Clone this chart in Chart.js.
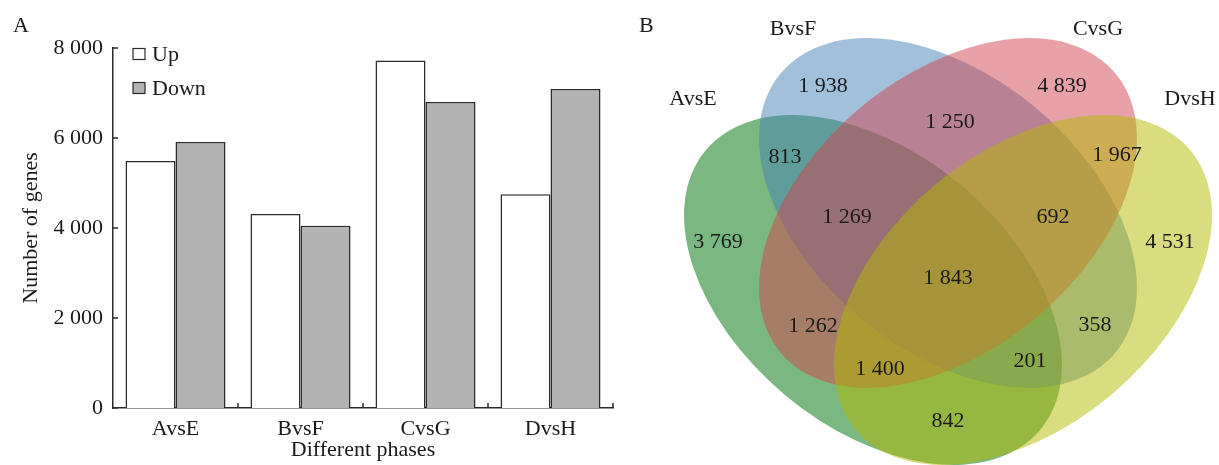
<!DOCTYPE html>
<html>
<head>
<meta charset="utf-8">
<script src="https://cdn.jsdelivr.net/npm/chart.js@4.4.1/dist/chart.umd.min.js"></script>
<style>
  html, body { margin: 0; padding: 0; background: #ffffff; }
  #wrap { position: relative; width: 1219px; height: 465px; overflow: hidden; }
  #bars { position: absolute; left: 0; top: 0; }
  #venn { position: absolute; left: 620px; top: 0; }
  .panel { position: absolute; font: 22px "Liberation Serif", serif; line-height: 22px; color: #1a1a1a; }
</style>
</head>
<body>
<div id="wrap">
  <canvas id="bars" width="620" height="465"></canvas>
  <canvas id="venn" width="599" height="465"></canvas>
  <div class="panel" style="left:13px; top:14px;">A</div>
  <div class="panel" style="left:639px; top:14px;">B</div>
</div>
<script>
// panel A data
const phases = ['AvsE', 'BvsF', 'CvsG', 'DvsH'];
const upGenes = [5490, 4310, 7720, 4750];
const downGenes = [5910, 4050, 6800, 7090];
const yTicks = [0, 2000, 4000, 6000, 8000];

// panel B data
const setNames = ['AvsE', 'BvsF', 'CvsG', 'DvsH'];
const regionNames = ['A', 'B', 'C', 'D', 'AB', 'BC', 'CD', 'ABC', 'BCD', 'ABCD', 'AC', 'BD', 'ACD', 'ABD', 'AD'];
const regionCounts = [3769, 1938, 4839, 4531, 813, 1250, 1967, 1269, 692, 1843, 1262, 358, 1400, 201, 842];

// venn layout (panel units = pixels of panel B)
const regionPos = [[98, 242], [203, 86], [442, 86], [550, 242], [165, 157], [330, 122], [497, 155],
  [227, 217], [433, 217], [328, 278], [193, 326], [475, 325], [260, 369], [410, 361], [328, 421]];
const setLabelPos = [[73, 99], [173, 29], [478, 29], [570, 99]];
const ellipseLayout = [[253, 290, 0.696], [328, 213, 0.696], [328, 213, -0.696], [403, 290, -0.696]];
const ellipseRadii = [218, 137];
const ellipseColors = ['rgba(35,135,45,0.6)', 'rgba(70,130,180,0.5)', 'rgba(210,70,80,0.5)', 'rgba(180,185,0,0.5)'];

const serif = '"Liberation Serif", "Times New Roman", serif';
const ink = '#1a1a1a';
const fmt = v => String(v).replace(/\B(?=(\d{3})+(?!\d))/g, ' ');

const innerTicks = {
  id: 'innerTicks',
  afterDraw(chart) {
    const {ctx, chartArea, scales: {x, y}} = chart;
    const half = (x.getPixelForValue(1) - x.getPixelForValue(0)) / 2;
    ctx.save();
    ctx.strokeStyle = '#2b2b2b';
    ctx.lineWidth = 1.5;
    ctx.beginPath();
    y.ticks.forEach(t => {
      const py = y.getPixelForValue(t.value);
      ctx.moveTo(chartArea.left, py);
      ctx.lineTo(chartArea.left + 5, py);
    });
    phases.forEach((p, i) => {
      const px = x.getPixelForValue(i) + half;
      ctx.moveTo(px, chartArea.bottom);
      ctx.lineTo(px, chartArea.bottom - 5);
    });
    ctx.stroke();
    ctx.restore();
  }
};

const cornerLegend = {
  id: 'cornerLegend',
  afterDraw(chart) {
    const {ctx, chartArea} = chart;
    ctx.save();
    ctx.font = '22px ' + serif;
    ctx.textBaseline = 'middle';
    chart.data.datasets.forEach((ds, i) => {
      const cy = chartArea.top + 6 + i * 34;
      ctx.fillStyle = ds.backgroundColor;
      ctx.strokeStyle = '#2b2b2b';
      ctx.lineWidth = 1.2;
      ctx.fillRect(chartArea.left + 20, cy - 5.5, 12, 11);
      ctx.strokeRect(chartArea.left + 20, cy - 5.5, 12, 11);
      ctx.fillStyle = ink;
      ctx.fillText(ds.label, chartArea.left + 39, cy + 1);
    });
    ctx.restore();
  }
};

new Chart(document.getElementById('bars'), {
  type: 'bar',
  data: {
    labels: phases,
    datasets: [
      { label: 'Up', data: upGenes, backgroundColor: '#ffffff', borderColor: '#2b2b2b', borderWidth: 1.5 },
      { label: 'Down', data: downGenes, backgroundColor: '#b3b3b3', borderColor: '#2b2b2b', borderWidth: 1.5 }
    ]
  },
  options: {
    responsive: false,
    animation: false,
    layout: { padding: { top: 48, right: 7, left: 0, bottom: 0 } },
    datasets: { bar: { categoryPercentage: 0.8, barPercentage: 1 } },
    scales: {
      x: {
        grid: { display: false, drawTicks: false },
        border: { color: '#2b2b2b', width: 1.5 },
        ticks: { font: { family: serif, size: 22 }, color: ink, padding: 8 },
        title: { display: true, text: 'Different phases', font: { family: serif, size: 22 }, color: ink, padding: { top: 0, bottom: 2 } },
        afterFit: s => { s.height = 57; }
      },
      y: {
        min: 0,
        max: 8000,
        grid: { display: false, drawTicks: false },
        border: { color: '#2b2b2b', width: 1.5 },
        afterBuildTicks: s => { s.ticks = yTicks.map(v => ({ value: v })); },
        ticks: { font: { family: serif, size: 22 }, color: ink, padding: 10, callback: v => fmt(v) },
        title: { display: true, text: 'Number of genes', font: { family: serif, size: 22 }, color: ink, padding: { top: 18, bottom: 0 } },
        afterFit: s => { s.width = 113; }
      }
    },
    plugins: { legend: { display: false }, tooltip: { enabled: false } }
  },
  plugins: [innerTicks, cornerLegend]
});

const ellipses = {
  id: 'ellipses',
  beforeDatasetsDraw(chart) {
    const {ctx, scales: {x, y}} = chart;
    const unit = x.getPixelForValue(1) - x.getPixelForValue(0);
    ctx.save();
    ellipseLayout.forEach((e, i) => {
      ctx.beginPath();
      ctx.ellipse(x.getPixelForValue(e[0]), y.getPixelForValue(e[1]),
        ellipseRadii[0] * unit, ellipseRadii[1] * unit, e[2], 0, Math.PI * 2);
      ctx.fillStyle = ellipseColors[i];
      ctx.fill();
    });
    ctx.restore();
  }
};

const vennLabels = {
  id: 'vennLabels',
  afterDatasetsDraw(chart) {
    const {ctx} = chart;
    ctx.save();
    ctx.font = '22px ' + serif;
    ctx.fillStyle = ink;
    ctx.textAlign = 'center';
    ctx.textBaseline = 'middle';
    chart.getDatasetMeta(0).data.forEach((pt, i) => ctx.fillText(fmt(regionCounts[i]), pt.x, pt.y));
    chart.getDatasetMeta(1).data.forEach((pt, i) => ctx.fillText(setNames[i], pt.x, pt.y));
    ctx.restore();
  }
};

new Chart(document.getElementById('venn'), {
  type: 'scatter',
  data: {
    datasets: [
      { label: 'regions', data: regionPos.map(p => ({ x: p[0], y: p[1] })), pointRadius: 0 },
      { label: 'sets', data: setLabelPos.map(p => ({ x: p[0], y: p[1] })), pointRadius: 0 }
    ]
  },
  options: {
    responsive: false,
    animation: false,
    layout: { padding: 0 },
    scales: {
      x: { type: 'linear', display: false, min: 0, max: 599 },
      y: { type: 'linear', display: false, min: 0, max: 465, reverse: true }
    },
    plugins: { legend: { display: false }, tooltip: { enabled: false } }
  },
  plugins: [ellipses, vennLabels]
});
</script>
</body>
</html>
